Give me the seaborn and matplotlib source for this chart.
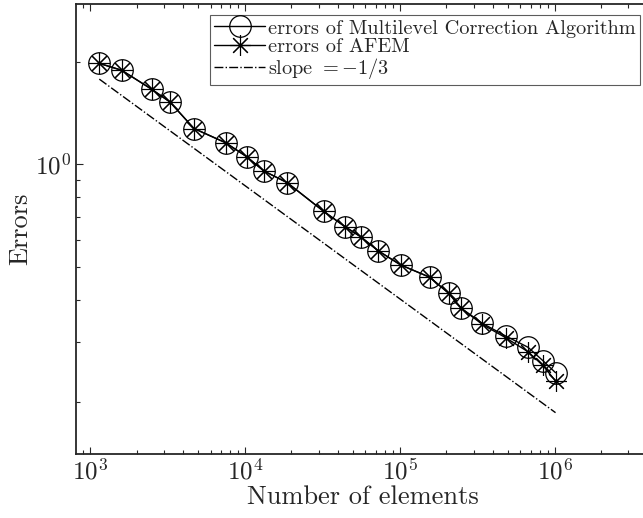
import numpy as np
import pandas as pd
import matplotlib
matplotlib.use("Agg")
import matplotlib.pyplot as plt
import seaborn as sns

# number of elements at each refinement step
elements = [1148, 1601, 2500, 3281, 4690, 7507, 10260, 13265, 18750, 32340,
            44190, 55980, 72440, 101400, 156200, 206900, 250000, 341600,
            483000, 673000, 840500, 1014000]
# errors of the multilevel correction algorithm
err_mlc = [1.98, 1.89, 1.662, 1.525, 1.274, 1.157, 1.053, 0.9556, 0.883, 0.7265,
           0.656, 0.612, 0.557, 0.5057, 0.4654, 0.4176, 0.377, 0.3406,
           0.3126, 0.2897, 0.2645, 0.2438]
# errors of AFEM
err_afem = [1.98, 1.89, 1.662, 1.525, 1.274, 1.157, 1.053, 0.9556, 0.883, 0.7265,
            0.656, 0.612, 0.557, 0.5057, 0.4654, 0.4176, 0.377, 0.338,
            0.309, 0.281, 0.256, 0.2305]
# reference line with slope -1/3
slope_x = [1148, 1014000]
slope_y = [1.78, 0.186]

sns.set_style("ticks")
plt.rcParams["font.family"] = "cmr10"
plt.rcParams["mathtext.fontset"] = "cm"
plt.rcParams["axes.unicode_minus"] = False
plt.rcParams["axes.formatter.use_mathtext"] = True

fig = plt.figure(figsize=(6.43, 5.18), dpi=100)
ax = fig.add_axes([76 / 643, 64 / 518, 574 / 643, 450 / 518])

sns.lineplot(x=elements, y=err_mlc, ax=ax, color="k", lw=1.0, marker="o",
             markersize=15.5, markerfacecolor="none", markeredgecolor="k",
             markeredgewidth=0.9, label="errors of Multilevel Correction Algorithm")
sns.lineplot(x=elements, y=err_afem, ax=ax, color="k", lw=1.0, marker=(8, 2, 0),
             markersize=15, markeredgecolor="k", markeredgewidth=0.8,
             label="errors of AFEM")
sns.lineplot(x=slope_x, y=slope_y, ax=ax, color="k", lw=1.0, linestyle="-.",
             label=r"slope $= -1/3$")

ax.set_xscale("log")
ax.set_yscale("log")
ax.set_xlim(812, 4.13e6)
ax.set_ylim(0.1406, 2.96)

ax.set_xlabel("Number of elements", fontsize=19, labelpad=0)
ax.set_ylabel("Errors", fontsize=19, labelpad=2)
ax.tick_params(which="both", direction="in", top=True, right=True,
               labelsize=18, width=0.8)
ax.tick_params(which="major", length=5)
ax.tick_params(which="minor", length=3)
for s in ax.spines.values():
    s.set_linewidth(1.3)

leg = ax.legend(loc="upper right", bbox_to_anchor=(564 / 574, 0.975),
                borderaxespad=0, fontsize=14.6, frameon=True, fancybox=False,
                handlelength=2.5, handletextpad=0.15, labelspacing=0.0,
                borderpad=0.2)
leg.get_frame().set_edgecolor("#333333")
leg.get_frame().set_linewidth(0.8)

fig.savefig("out.png", dpi=100)
